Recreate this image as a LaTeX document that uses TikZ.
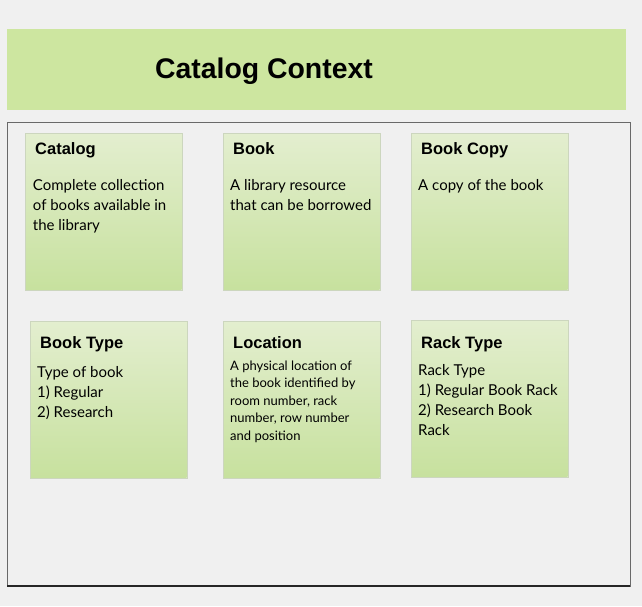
\documentclass[tikz,border=0pt]{standalone}
\usepackage{fontspec}
\setmainfont{Lato}
\newfontfamily\headfont{Liberation Sans}
\usetikzlibrary{positioning}
\definecolor{pagegray}{RGB}{240,240,240}
\definecolor{bannergreen}{RGB}{205,230,160}
\definecolor{notetop}{RGB}{227,238,207}
\definecolor{notebottom}{RGB}{199,225,158}
\definecolor{noteedge}{RGB}{204,214,190}
\definecolor{framegray}{RGB}{105,105,105}
\tikzset{
  note/.style={draw=noteedge, top color=notetop, bottom color=notebottom, minimum width=156.5pt, minimum height=156.5pt, inner sep=0pt, anchor=north west},
  notetitle/.style={anchor=base west, inner sep=0pt, font=\headfont\bfseries\fontsize{16.5}{20}\selectfont},
  notetext/.style={anchor=base west, inner sep=0pt, align=left, font=\fontsize{15}{20}\selectfont},
  smalltext/.style={notetext, font=\fontsize{13}{17.6}\selectfont}
}
\begin{document}
\begin{tikzpicture}[x=1pt,y=-1pt]
            \fill[pagegray] (0,0) rectangle (642,606);
            \useasboundingbox (0,0) rectangle (642,606);
            % Cabecera
            \fill[bannergreen] (7,29) rectangle (626,110);
            \node[anchor=base, inner sep=0pt, font=\headfont\bfseries\fontsize{28.4}{32}\selectfont] (title) at (264,78) {Catalog Context};
            % Marco
            \draw[framegray, line width=1pt] (7,122) rectangle (630,586);
            \draw[black!85, line width=1.2pt] (7,586) -- (630,586);

            % Fila 1 (base = ultima linea del texto)
            \node[note] (catalog) at (25,133) {};
            \node[notetitle, below right = 21pt and 10pt of catalog.north west, anchor=base west] (catalogT) {Catalog};
            \node[notetext, below right = 97.7pt and 7.7pt of catalog.north west, anchor=base west] (catalogD) {Complete collection\\of books available in\\the library};

            \node[note] (book) at (223,133) {};
            \node[notetitle, below right = 21pt and 10pt of book.north west, anchor=base west] (bookT) {Book};
            \node[notetext, below right = 77.7pt and 7pt of book.north west, anchor=base west] (bookD) {A library resource\\that can be borrowed};

            \node[note] (bookcopy) at (411,133) {};
            \node[notetitle, below right = 21pt and 10pt of bookcopy.north west, anchor=base west] (bookcopyT) {Book Copy};
            \node[notetext, below right = 57.7pt and 7pt of bookcopy.north west, anchor=base west] (bookcopyD) {A copy of the book};

            % Fila 2
            \node[note] (booktype) at (30,321) {};
            \node[notetitle, below right = 27pt and 10pt of booktype.north west, anchor=base west] (booktypeT) {Book Type};
            \node[notetext, below right = 96pt and 7pt of booktype.north west, anchor=base west] (booktypeD) {Type of book\\1) Regular\\2) Research};

            \node[note] (location) at (223,321) {};
            \node[notetitle, below right = 27pt and 10pt of location.north west, anchor=base west] (locationT) {Location};
            \node[smalltext, below right = 119.4pt and 7pt of location.north west, anchor=base west] (locationD) {A physical location of\\the book identified by\\room number, rack\\number, row number\\and position};

            \node[note] (racktype) at (411,320) {};
            \node[notetitle, below right = 28pt and 10pt of racktype.north west, anchor=base west] (racktypeT) {Rack Type};
            \node[notetext, below right = 115pt and 7pt of racktype.north west, anchor=base west] (racktypeD) {Rack Type\\1) Regular Book Rack\\2) Research Book\\Rack};
\end{tikzpicture}
\end{document}
